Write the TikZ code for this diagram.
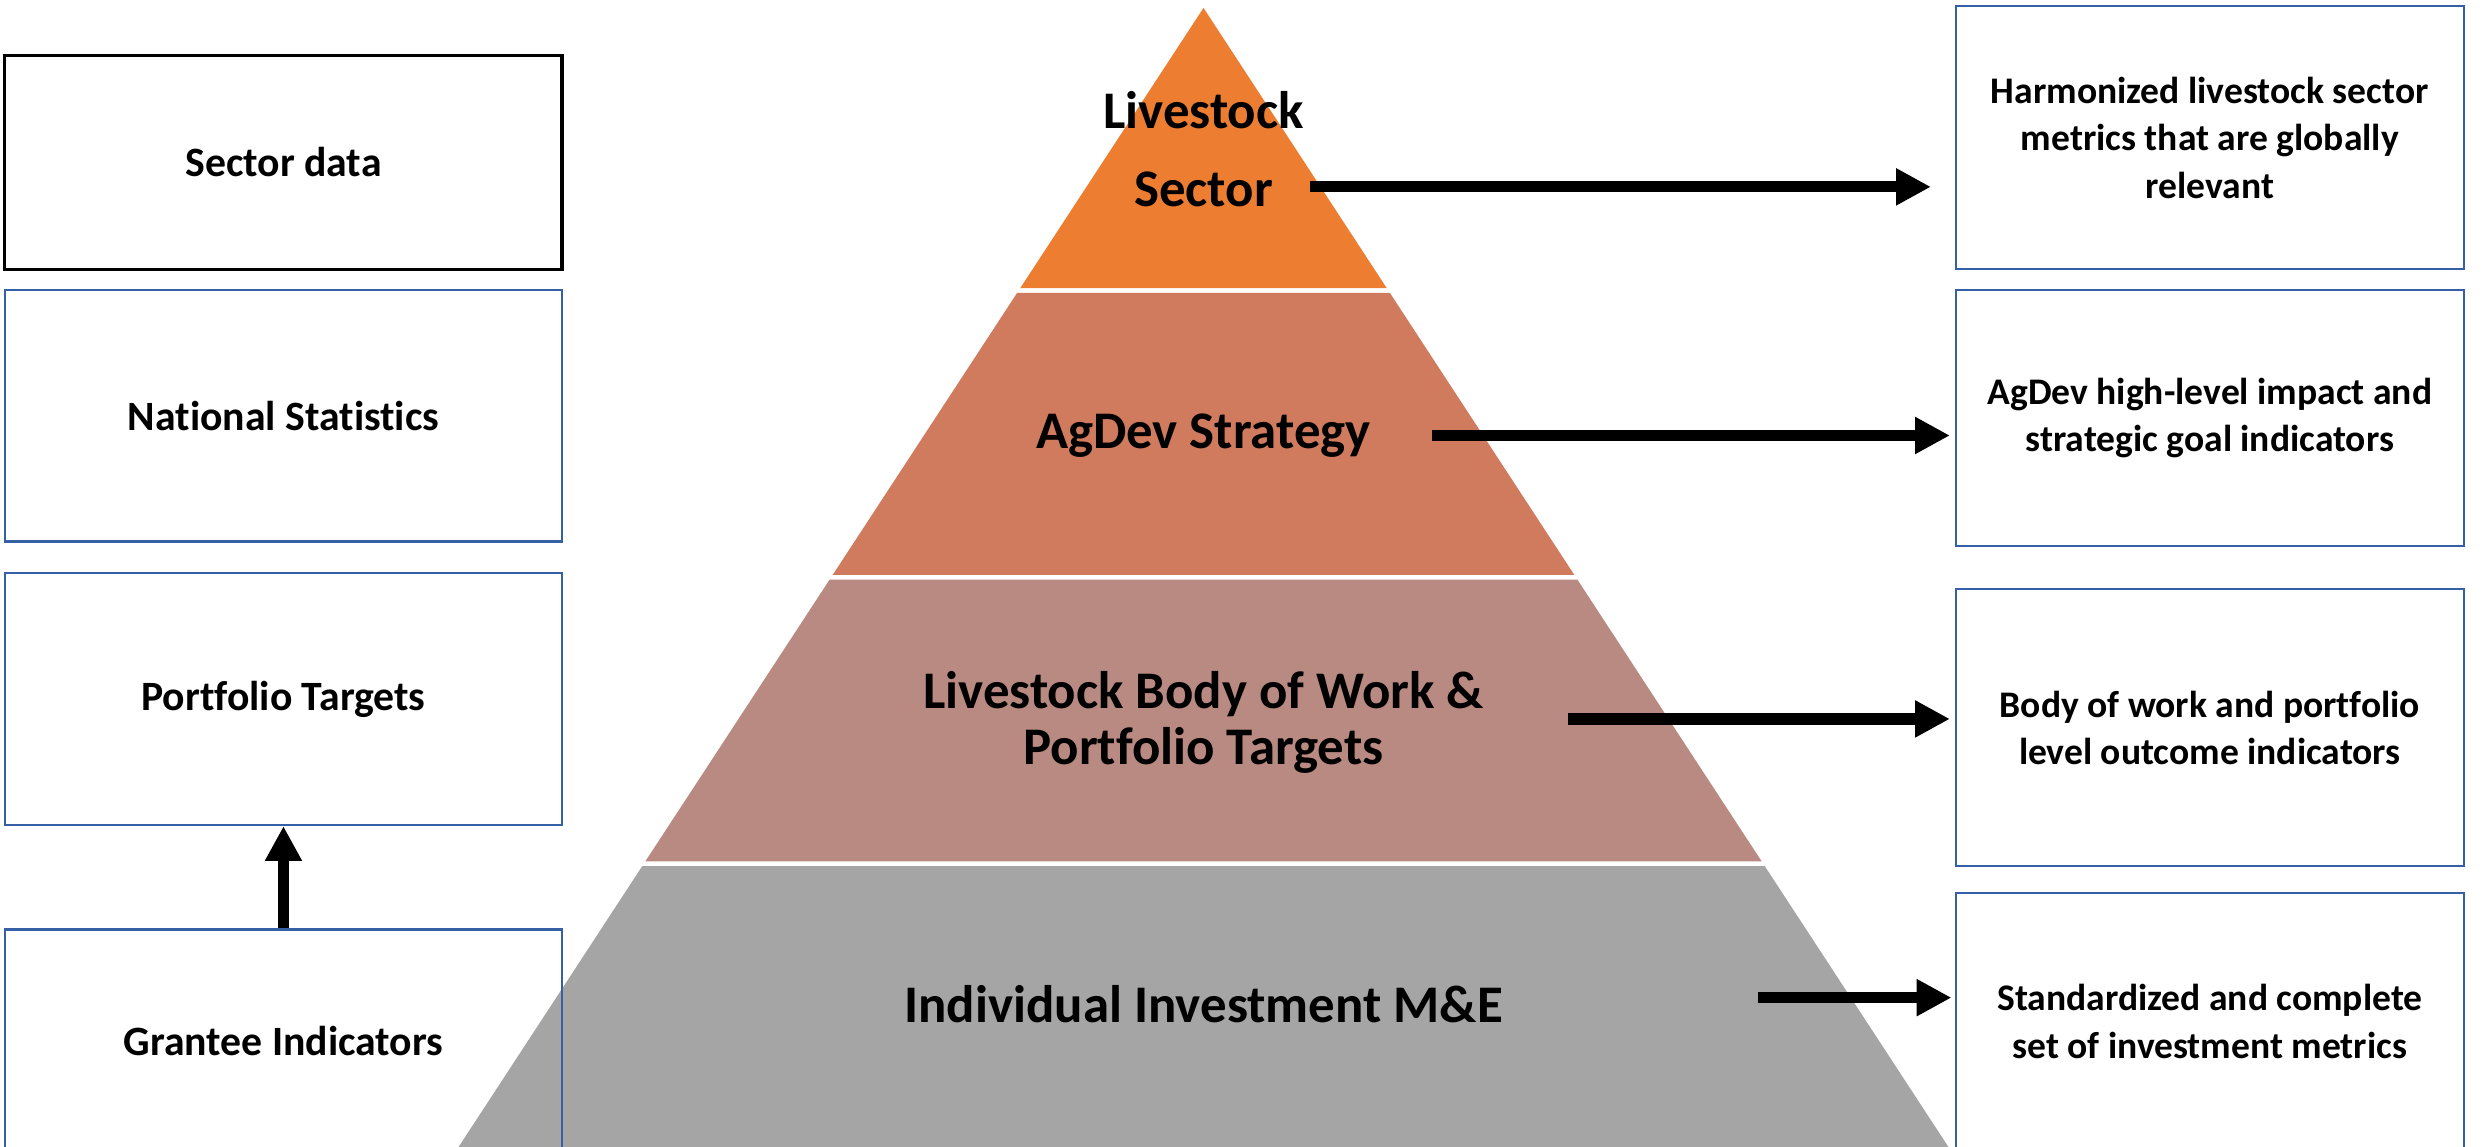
\documentclass[tikz,border=0pt]{standalone}
\usepackage{fontspec}
\setmainfont{Carlito}[Ligatures=NoCommon]
\usetikzlibrary{arrows.meta}

\definecolor{tierA}{HTML}{ED7D31}
\definecolor{tierB}{HTML}{D07A5E}
\definecolor{tierC}{HTML}{B98A82}
\definecolor{tierD}{HTML}{A5A5A5}
\definecolor{boxblue}{HTML}{3560A6}

\begin{document}
\begin{tikzpicture}[x=0.02cm,y=-0.02cm,
    srcbox/.style={draw=boxblue,line width=0.8pt,minimum width=7.04cm,align=center,font=\fontsize{15}{18}\selectfont\bfseries},
    outbox/.style={draw=boxblue,line width=0.8pt,minimum width=6.42cm,align=center,font=\fontsize{13.5}{17}\selectfont\bfseries},
    lvl/.style={align=center,font=\fontsize{19}{20}\selectfont\bfseries},
    fat/.style={line width=4pt,-{Triangle[length=0.44cm,width=0.44cm]}}]

\useasboundingbox (0,0) rectangle (1568,724);

% pyramid
\foreach \top/\bot/\col in {5/182/tierA,185/363/tierB,366/544/tierC,547/780/tierD}
    \fill[\col] ({760-0.654*(\top-5)},\top) -- ({760+0.654*(\top-5)},\top)
        -- ({760+0.654*(\bot-5)},\bot) -- ({760-0.654*(\bot-5)},\bot) -- cycle;

\node[lvl,font=\fontsize{19}{28}\selectfont\bfseries] (L1) at (760,94) {Livestock\\Sector};
\node[lvl] (L2) at (760,275) {AgDev Strategy};
\node[lvl] (L3) at (760,456) {Livestock Body of Work \&\\Portfolio Targets};
\node[lvl] (L4) at (760,634) {Individual Investment M\&E};

% sources
\node[srcbox,draw=black,line width=1.2pt,minimum height=2.7cm] (SD) at (179,102.5) {Sector data};
\node[srcbox,minimum height=3.18cm] (NS) at (179,262.5) {National Statistics};
\node[srcbox,minimum height=3.18cm] (PT) at (179,441.5) {Portfolio Targets};
\node[srcbox,minimum height=2.82cm] (GI) at (179,657.5) {Grantee Indicators};

% outputs
\node[outbox,minimum height=3.32cm] (R1) at (1395.5,87) {Harmonized livestock sector\\metrics that are globally\\relevant};
\node[outbox,minimum height=3.24cm] (R2) at (1395.5,264) {AgDev high-level impact and\\strategic goal indicators};
\node[outbox,minimum height=3.5cm] (R3) at (1395.5,459.5) {Body of work and portfolio\\level outcome indicators};
\node[outbox,minimum height=3.24cm] (R4) at (1395.5,645) {Standardized and complete\\set of investment metrics};

\coordinate (a1) at (827,118);
\coordinate (a2) at (904,275);
\coordinate (a3) at (990,454);
\coordinate (a4) at (1110,630);

\draw[fat] (GI.north) -- (PT.south);
\draw[fat,shorten >=0.3cm] (a1) -- (a1 -| R1.west);
\draw[fat,shorten >=0.06cm] (a2) -- (a2 -| R2.west);
\draw[fat,shorten >=0.06cm] (a3) -- (a3 -| R3.west);
\draw[fat,shorten >=0.04cm] (a4) -- (a4 -| R4.west);
\end{tikzpicture}
\end{document}
